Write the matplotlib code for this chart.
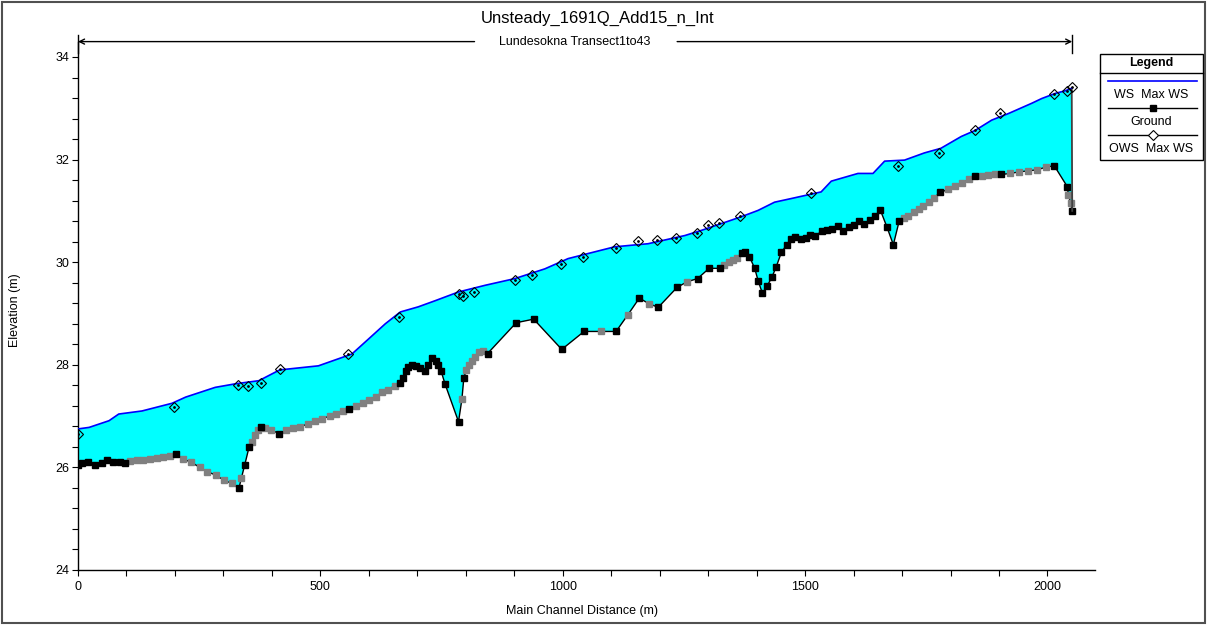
import matplotlib
matplotlib.use("Agg")
import matplotlib.pyplot as plt
import numpy as np
from matplotlib.patches import Rectangle
from matplotlib.lines import Line2D
from matplotlib.ticker import MultipleLocator

plt.rcParams['font.family'] = ['Liberation Sans', 'DejaVu Sans']

# ---------------- data ----------------
title = "Unsteady_1691Q_Add15_n_Int"
subtitle = "Lundesokna Transect1to43"
x_label = "Main Channel Distance (m)"
y_label = "Elevation (m)"
legend_title = "Legend"
legend_labels = ["WS  Max WS", "Ground", "OWS  Max WS"]

x_ticks = [0, 500, 1000, 1500, 2000]
y_ticks = [24, 26, 28, 30, 32, 34]

# Water surface (max WS)
ws_x = [0, 23, 64, 84, 132, 194, 222, 283, 325, 373, 416, 496, 565, 599, 634,
        665, 702, 737, 785, 840, 901, 963, 1011, 1107, 1176, 1252, 1286, 1348,
        1375, 1403, 1437, 1471, 1533, 1554, 1609, 1640, 1664, 1705, 1746, 1780,
        1822, 1851, 1885, 1920, 1968, 1988, 2016, 2036, 2050]
ws_z = [26.75, 26.78, 26.91, 27.04, 27.10, 27.25, 27.37, 27.56, 27.63, 27.69,
        27.90, 27.98, 28.21, 28.50, 28.80, 29.03, 29.13, 29.25, 29.42, 29.55,
        29.68, 29.87, 30.07, 30.30, 30.36, 30.52, 30.62, 30.82, 30.91, 31.01,
        31.17, 31.24, 31.37, 31.58, 31.73, 31.73, 31.97, 31.99, 32.13, 32.22,
        32.45, 32.57, 32.77, 32.90, 33.10, 33.19, 33.29, 33.34, 33.39]

# Observed water surface (OWS max WS)
ows_x = [0, 199, 330, 351, 378, 416, 558, 663, 785, 794, 817, 901, 937, 996,
         1042, 1109, 1156, 1195, 1234, 1276, 1300, 1323, 1365, 1512, 1692, 1777,
         1851, 1901, 2014, 2040, 2051]
ows_z = [26.66, 27.17, 27.61, 27.59, 27.64, 27.92, 28.21, 28.93, 29.38, 29.35,
         29.42, 29.66, 29.76, 29.97, 30.10, 30.28, 30.41, 30.44, 30.47, 30.56,
         30.72, 30.77, 30.90, 31.35, 31.87, 32.13, 32.58, 32.90, 33.28, 33.34,
         33.41]

# Ground (channel bed)
ground_x = [0, 8, 21, 35, 49, 59, 73, 87, 97, 107, 121, 135, 148, 162, 176, 189,
            202, 217, 234, 251, 266, 284, 301, 317, 332, 337, 344, 353, 358, 365,
            371, 377, 385, 399, 414, 429, 444, 459, 474, 489, 504, 519, 533, 546,
            560, 574, 588, 601, 614, 628, 639, 653, 665, 670, 676, 681, 689, 698,
            706, 715, 722, 731, 738, 743, 749, 757, 785, 792, 796, 801, 806, 813,
            819, 828, 836, 845, 904, 940, 998, 1044, 1079, 1110, 1134, 1158, 1178,
            1197, 1236, 1257, 1278, 1302, 1325, 1333, 1343, 1352, 1360, 1369, 1377,
            1385, 1396, 1403, 1412, 1422, 1432, 1440, 1451, 1462, 1471, 1480, 1491,
            1501, 1511, 1521, 1535, 1546, 1556, 1568, 1578, 1590, 1600, 1611, 1621,
            1633, 1645, 1655, 1669, 1682, 1694, 1703, 1713, 1724, 1734, 1744, 1755,
            1765, 1779, 1795, 1810, 1824, 1839, 1851, 1864, 1878, 1892, 1905, 1923,
            1941, 1959, 1978, 1996, 2014, 2041, 2043, 2048, 2051]
ground_z = [26.05, 26.09, 26.11, 26.05, 26.09, 26.14, 26.11, 26.10, 26.09, 26.12,
            26.14, 26.15, 26.17, 26.19, 26.21, 26.23, 26.26, 26.16, 26.10, 26.00,
            25.92, 25.85, 25.75, 25.69, 25.59, 25.79, 26.05, 26.40, 26.50, 26.63,
            26.72, 26.79, 26.76, 26.73, 26.66, 26.72, 26.76, 26.79, 26.85, 26.90,
            26.95, 27.00, 27.04, 27.09, 27.13, 27.20, 27.25, 27.31, 27.38, 27.46,
            27.51, 27.59, 27.64, 27.74, 27.87, 27.95, 28.00, 27.98, 27.93, 27.88,
            28.00, 28.14, 28.08, 28.00, 27.88, 27.63, 26.89, 27.33, 27.75, 27.89,
            28.00, 28.08, 28.16, 28.24, 28.26, 28.22, 28.82, 28.89, 28.30, 28.65,
            28.65, 28.65, 28.97, 29.30, 29.19, 29.12, 29.51, 29.62, 29.68, 29.88,
            29.88, 29.95, 30.00, 30.05, 30.09, 30.17, 30.20, 30.11, 29.88, 29.64,
            29.39, 29.54, 29.72, 29.90, 30.19, 30.34, 30.45, 30.50, 30.45, 30.47,
            30.53, 30.51, 30.61, 30.62, 30.64, 30.70, 30.61, 30.69, 30.72, 30.81,
            30.75, 30.82, 30.90, 31.02, 30.68, 30.34, 30.80, 30.86, 30.90, 30.97,
            31.03, 31.10, 31.18, 31.25, 31.36, 31.42, 31.49, 31.55, 31.62, 31.68,
            31.68, 31.69, 31.71, 31.71, 31.73, 31.76, 31.78, 31.80, 31.85, 31.88,
            31.47, 31.31, 31.15, 31.00]
# R = surveyed cross section (black), I = interpolated cross section (gray)
ground_kind = ("RRRRRRRRR" "IIIIIII" "R" "IIIIIII" "R" "I" "RR" "III" "R" "II" "R"
               "IIIIIIIII" "R" "IIIIIII" "RRRRRRRRRRRRRR" "R" "I" "R" "IIIIII"
               "RRRRR" "I" "R" "I" "R" "I" "RR" "I" "RRR" "IIII"
               "RRRRRRRRRRRRRRRRRRRRRRRRRRRRRRRR" "IIIIIII" "R" "IIII" "R" "III"
               "R" "IIIII" "RR" "II" "R")

assert len(ground_x) == len(ground_z) == len(ground_kind)
assert len(ws_x) == len(ws_z) and len(ows_x) == len(ows_z)

# ---------------- figure ----------------
W, H = 1208, 626
fig = plt.figure(figsize=(W / 100, H / 100), dpi=100)
fig.patch.set_facecolor('white')

def fx(px):
    return px / W

def fy(py):
    return 1 - py / H

ax_left, ax_right, ax_bottom, ax_top = 78, 1095, 570, 41.6
ax = fig.add_axes([fx(ax_left), fy(ax_bottom), (ax_right - ax_left) / W,
                   (ax_bottom - ax_top) / H])
ax.set_xlim(0, 2098)
ax.set_ylim(24, 34.3)

gx = np.array(ground_x, dtype=float)
gz = np.array(ground_z, dtype=float)
kind = np.array(list(ground_kind))
wx = np.array(ws_x, dtype=float)
wz = np.array(ws_z, dtype=float)

# fill between water surface and ground
poly_x = np.concatenate([wx, gx[::-1]])
poly_y = np.concatenate([wz, gz[::-1]])
ax.fill(poly_x, poly_y, color='#00FFFF', lw=0, zorder=1)

# ground line and markers
ax.plot(gx, gz, color='black', lw=1.0, zorder=2)
ax.plot(gx[kind == 'I'], gz[kind == 'I'], ls='none', marker='s', ms=4.2,
        color='#808080', mec='#808080', zorder=3)
ax.plot(gx[kind == 'R'], gz[kind == 'R'], ls='none', marker='s', ms=4.2,
        color='black', mec='black', zorder=4)

# right edge of water body
ax.plot([wx[-1], gx[-1]], [wz[-1], gz[-1]], color='#404040', lw=1.3, zorder=4)

# water surface
ax.plot(wx, wz, color='#0000FF', lw=1.2, zorder=5)

# observed WS
ax.plot(ows_x, ows_z, ls='none', marker='D', ms=4.8, mfc='none', mec='black',
        mew=0.8, zorder=6)
ax.plot(ows_x, ows_z, ls='none', marker='o', ms=1.0, color='black', zorder=6)

# axes styling
for s in ['top', 'right']:
    ax.spines[s].set_visible(False)
for s in ['left', 'bottom']:
    ax.spines[s].set_color('black')
    ax.spines[s].set_linewidth(1.0)
ax.set_xticks(x_ticks)
ax.set_yticks(y_ticks)
ax.xaxis.set_minor_locator(MultipleLocator(100))
ax.yaxis.set_minor_locator(MultipleLocator(0.4))
ax.tick_params(which='both', direction='out', length=4, width=0.8,
               labelsize=9, colors='black')
ax.tick_params(axis='x', pad=4)
ax.tick_params(axis='y', pad=2.5)

# reach arrow + river/reach name
xt = ax.get_xaxis_transform()
y_arr = 1.0
ax.annotate('', xy=(0, y_arr), xytext=(818, y_arr), xycoords=xt, textcoords=xt,
            arrowprops=dict(arrowstyle='->', lw=1.0, color='black',
                            shrinkA=0, shrinkB=0, mutation_scale=9),
            annotation_clip=False)
ax.annotate('', xy=(2051, y_arr), xytext=(1236, y_arr), xycoords=xt, textcoords=xt,
            arrowprops=dict(arrowstyle='->', lw=1.0, color='black',
                            shrinkA=0, shrinkB=0, mutation_scale=9),
            annotation_clip=False)
for xb in (0, 2051):
    ax.plot([xb, xb], [0.978, 1.0125], transform=xt, clip_on=False,
            color='black', lw=1.0)
ax.text(1024, y_arr, subtitle, transform=xt, ha='center', va='center',
        fontsize=9)

# title and axis labels
fig.text(fx(598), fy(18), title, ha='center', va='center', fontsize=12)
fig.text(fx(582), fy(611), x_label, ha='center', va='center', fontsize=9)
fig.text(fx(15), fy(310), y_label, ha='center', va='center', fontsize=9,
         rotation=90)

# legend box
lx0, lx1, ly0, ly1 = 1099.5, 1202.5, 54, 160
fig.add_artist(Rectangle((fx(lx0), fy(ly1)), (lx1 - lx0) / W, (ly1 - ly0) / H,
                         transform=fig.transFigure, fill=False,
                         edgecolor='black', lw=1.0))
fig.add_artist(Line2D([fx(lx0), fx(lx1)], [fy(73.3), fy(73.3)],
                      transform=fig.transFigure, color='black', lw=1.0))
fig.text(fx((lx0 + lx1) / 2), fy(63), legend_title, ha='center', va='center',
         fontsize=9, fontweight='bold')
lm = (lx0 + lx1) / 2
fig.add_artist(Line2D([fx(1108), fx(1197)], [fy(80.7), fy(80.7)],
                      transform=fig.transFigure, color='#0000FF', lw=1.2))
fig.text(fx(lm), fy(95), legend_labels[0], ha='center', va='center', fontsize=9)
fig.add_artist(Line2D([fx(1108), fx(1197)], [fy(108.3), fy(108.3)],
                      transform=fig.transFigure, color='black', lw=1.0))
fig.add_artist(Line2D([fx(1153)], [fy(108.3)], transform=fig.transFigure,
                      ls='none', marker='s', ms=4.2, color='black'))
fig.text(fx(lm), fy(122), legend_labels[1], ha='center', va='center', fontsize=9)
fig.add_artist(Line2D([fx(1108), fx(1197)], [fy(135), fy(135)],
                      transform=fig.transFigure, color='black', lw=1.0))
fig.add_artist(Line2D([fx(1153)], [fy(135)], transform=fig.transFigure,
                      ls='none', marker='D', ms=4.8, mfc='white', mec='black',
                      mew=0.8))
fig.text(fx(lm), fy(149), legend_labels[2], ha='center', va='center', fontsize=9)

# outer frame
fig.add_artist(Rectangle((fx(2), fy(623)), 1203 / W, 621 / H,
                         transform=fig.transFigure, fill=False,
                         edgecolor='#505050', lw=1.5))

fig.savefig('out.png', dpi=100)
